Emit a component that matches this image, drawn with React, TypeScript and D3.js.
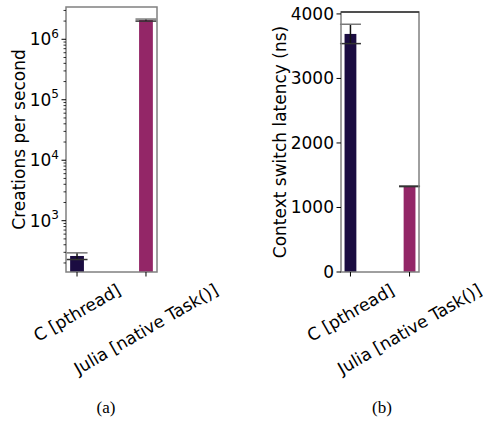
import React, { useEffect, useRef } from "react";
import * as d3 from "d3";

const categories = ["C [pthread]", "Julia [native Task()]"];
const creationsMean = [261, 2080000];
const creationsErr = [33, 80000];
const latencyMean = [3690, 1330];
const latencyErr = [150, 6];
const barColors = ["#1b0c41", "#932667"];
const logTickExps = [3, 4, 5, 6];
const linearTicks = [0, 1000, 2000, 3000, 4000];
const captions = ["(a)", "(b)"];

const FONT = "DejaVu Sans, sans-serif";
const FS = 17;

export default function App() {
  const ref = useRef<SVGSVGElement>(null);

  useEffect(() => {
    const svg = d3.select(ref.current);
    svg.selectAll("*").remove();

    const drawPanel = (opts: any) => {
      const { left, right, top, bottom, y, means, errs, ticks, tickLabel, minor, ylabel, ylabelX, caption, capX, log } = opts;
      const g = svg.append("g");
      const x = d3.scaleLinear().domain([-0.16, 1.16]).range([left, right]);
      const bw = x(0.1) - x(-0.1);
      means.forEach((m: number, i: number) => {
        const base = log ? bottom : y(0);
        g.append("rect")
          .attr("x", x(i) - bw / 2)
          .attr("y", y(m))
          .attr("width", bw)
          .attr("height", base - y(m))
          .attr("fill", barColors[i]);
      });
      means.forEach((m: number, i: number) => {
        const cx = x(i);
        const hi = y(m + errs[i]);
        const lo = y(m - errs[i]);
        g.append("line").attr("x1", cx).attr("x2", cx).attr("y1", hi).attr("y2", lo)
          .attr("stroke", "#111").attr("stroke-width", 1.5);
        g.append("line").attr("x1", cx - 10.5).attr("x2", cx + 10.5).attr("y1", hi).attr("y2", hi)
          .attr("stroke", "#777").attr("stroke-width", 1.5);
        g.append("line").attr("x1", cx - 10.5).attr("x2", cx + 10.5).attr("y1", lo).attr("y2", lo)
          .attr("stroke", "#333").attr("stroke-width", 1.5);
      });
      g.append("rect").attr("x", left).attr("y", top).attr("width", right - left).attr("height", bottom - top)
        .attr("fill", "none").attr("stroke", "#808080").attr("stroke-width", 1.5);
      if (!log) {
        g.append("line").attr("x1", left).attr("x2", right).attr("y1", top).attr("y2", top)
          .attr("stroke", "#000").attr("stroke-width", 1);
      }
      minor.forEach((v: number) => {
        const yy = y(v);
        if (yy < top || yy > bottom) return;
        g.append("line").attr("x1", left - 2.5).attr("x2", left).attr("y1", yy).attr("y2", yy)
          .attr("stroke", "#000").attr("stroke-width", 0.8);
      });
      ticks.forEach((v: number) => {
        const yy = y(v);
        g.append("line").attr("x1", left - 4.5).attr("x2", left).attr("y1", yy).attr("y2", yy)
          .attr("stroke", "#000").attr("stroke-width", 1);
        tickLabel(g, left - 7, yy, v);
      });
      categories.forEach((c, i) => {
        g.append("line").attr("x1", x(i)).attr("x2", x(i)).attr("y1", bottom).attr("y2", bottom + 4.5)
          .attr("stroke", "#000").attr("stroke-width", 1);
        const t = g.append("text").text(c).attr("font-family", FONT).attr("font-size", FS)
          .attr("text-anchor", "middle").attr("dominant-baseline", "central").attr("fill", "#000");
        const w = (t.node() as SVGTextElement).getComputedTextLength();
        const h = FS * 1.0;
        const a = Math.PI / 6;
        const bboxH = w * Math.sin(a) + h * Math.cos(a);
        const cy = bottom + 9 + bboxH / 2;
        t.attr("x", x(i)).attr("y", cy).attr("transform", `rotate(-30, ${x(i)}, ${cy})`);
      });
      const my = (top + bottom) / 2;
      g.append("text").text(ylabel).attr("font-family", FONT).attr("font-size", FS)
        .attr("text-anchor", "middle").attr("dominant-baseline", "central")
        .attr("transform", `translate(${ylabelX}, ${my}) rotate(-90)`);
      g.append("text").text(caption).attr("font-family", "Liberation Serif, serif").attr("font-size", 17)
        .attr("text-anchor", "middle").attr("x", capX).attr("y", 413);
    };

    const yA = d3.scaleLog().domain([141.8, 3.42e6]).range([272, 7]);
    const minorA: number[] = [];
    for (let e = 2; e <= 6; e++) for (let k = 2; k <= 9; k++) minorA.push(k * Math.pow(10, e));
    drawPanel({
      left: 66, right: 157, top: 7, bottom: 272, y: yA, log: true,
      means: creationsMean, errs: creationsErr,
      ticks: logTickExps.map((e) => Math.pow(10, e)),
      minor: minorA,
      tickLabel: (g: any, xx: number, yy: number, v: number) => {
        const t = g.append("text").attr("font-family", FONT).attr("font-size", FS)
          .attr("text-anchor", "end").attr("x", xx).attr("y", yy + 6).attr("fill", "#000");
        t.append("tspan").text("10");
        t.append("tspan").text(String(Math.round(Math.log10(v)))).attr("font-size", 12).attr("dy", -7.5);
      },
      ylabel: "Creations per second", ylabelX: 19, caption: captions[0], capX: 106,
    });

    const yB = d3.scaleLinear().domain([0, 4030]).range([272, 12]);
    drawPanel({
      left: 341, right: 419, top: 12, bottom: 272, y: yB, log: false,
      means: latencyMean, errs: latencyErr,
      ticks: linearTicks, minor: [],
      tickLabel: (g: any, xx: number, yy: number, v: number) => {
        g.append("text").text(String(v)).attr("font-family", FONT).attr("font-size", FS)
          .attr("text-anchor", "end").attr("dominant-baseline", "central").attr("x", xx).attr("y", yy).attr("fill", "#000");
      },
      ylabel: "Context switch latency (ns)", ylabelX: 280, caption: captions[1], capX: 382,
    });
  }, []);

  return (
    <svg ref={ref} width={483} height={433} style={{ position: "absolute", left: 0, top: 0, background: "#fff" }} />
  );
}
